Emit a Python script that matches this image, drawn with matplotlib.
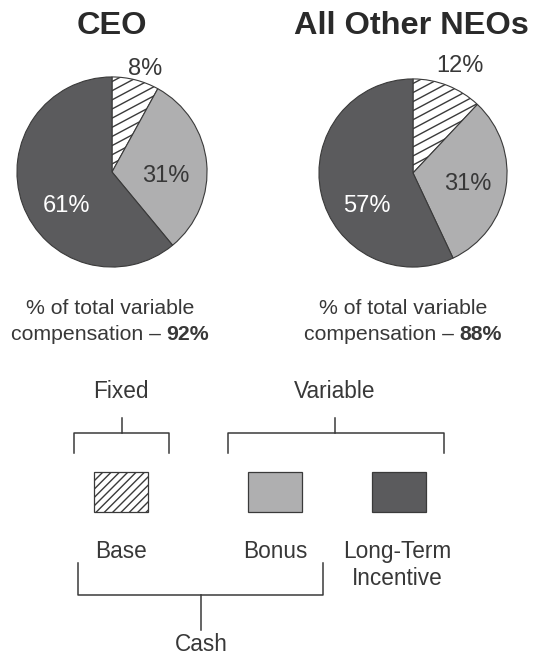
import numpy as np
import matplotlib
matplotlib.use("Agg")
import matplotlib.pyplot as plt
from matplotlib.patches import Rectangle

plt.rcParams['font.family'] = ['Liberation Sans', 'DejaVu Sans']
plt.rcParams['hatch.linewidth'] = 1.0

# ---- data ----
groups = ["CEO", "All Other NEOs"]
components = ["Base", "Bonus", "Long-Term\nIncentive"]
ceo_values = [8, 31, 61]
neo_values = [12, 31, 57]
variable_pct = [92, 88]

W, H = 535, 657
fig = plt.figure(figsize=(W / 100, H / 100), dpi=100)

LIGHT = '#afafb0'
DARK = '#5b5b5d'
EDGE = '#3a3a3a'
TXT = '#383838'

def pie_axes(cx, cy, r):
    return fig.add_axes([(cx - r) / W, (H - cy - r) / H, 2 * r / W, 2 * r / H])

pies = [
    dict(vals=ceo_values, cx=112, cy=172, r=96, title_x=112, sub_x=110,
         lab=[(145, 75), (166, 182), (66, 212)]),
    dict(vals=neo_values, cx=413, cy=173, r=95, title_x=411, sub_x=403,
         lab=[(460, 72), (468, 190), (367, 212)]),
]

for p in pies:
    pa = pie_axes(p['cx'], p['cy'], p['r'])
    wedges, _ = pa.pie(p['vals'], startangle=90, counterclock=False,
                       colors=['white', LIGHT, DARK],
                       wedgeprops=dict(edgecolor=EDGE, linewidth=0.8))
    # shallow diagonal hatch inside the base wedge
    ang = np.deg2rad(28)
    d = np.array([np.cos(ang), np.sin(ang)])
    nvec = np.array([-np.sin(ang), np.cos(ang)])
    for k in np.arange(-1.2, 1.2, 0.085):
        c = nvec * k
        pts = np.array([c - 2 * d, c + 2 * d])
        ln, = pa.plot(pts[:, 0], pts[:, 1], color=EDGE, lw=1.0, zorder=3)
        ln.set_clip_path(wedges[0])
    pa.set_xlim(-1.01, 1.01)
    pa.set_ylim(-1.01, 1.01)
    pa.axis('off')

# overlay axes in pixel coordinates
ax = fig.add_axes([0, 0, 1, 1])
ax.set_xlim(0, W)
ax.set_ylim(H, 0)
ax.axis('off')
ax.set_zorder(10)

renderer = fig.canvas.get_renderer()

def text_width(s, **kw):
    t = ax.text(0, 0, s, **kw)
    bb = t.get_window_extent(renderer=renderer)
    t.remove()
    return bb.width

SUB = 15.3
LEG = 16.3
PCT = 17

for i, p in enumerate(pies):
    ax.text(p['title_x'], 34, groups[i], ha='center', va='baseline',
            fontsize=23.4, fontweight='bold', color='#2a2a2a')
    cols = [TXT, TXT, 'white']
    for (x, y), v, c in zip(p['lab'], p['vals'], cols):
        ax.text(x, y, f"{v}%", ha='center', va='baseline', fontsize=PCT, color=c)
    sx = p['sub_x']
    ax.text(sx, 314, "% of total variable", ha='center', va='baseline',
            fontsize=SUB, color=TXT)
    a = "compensation \u2013 "
    b = f"{variable_pct[i]}%"
    wa = text_width(a, fontsize=SUB)
    wb = text_width(b, fontsize=SUB, fontweight='bold')
    x0 = sx - (wa + wb) / 2
    ax.text(x0, 340, a, ha='left', va='baseline', fontsize=SUB, color=TXT)
    ax.text(x0 + wa, 340, b, ha='left', va='baseline', fontsize=SUB,
            fontweight='bold', color=TXT)

lw = 1.1
lc = '#3a3a3a'

def bracket_down(x0, x1, xm, y_top, y_bar, y_end):
    ax.plot([xm, xm], [y_top, y_bar], color=lc, lw=lw)
    ax.plot([x0, x0, x1, x1], [y_end, y_bar, y_bar, y_end], color=lc, lw=lw)

ax.text(121, 398, "Fixed", ha='center', va='baseline', fontsize=LEG, color=TXT)
ax.text(335, 398, "Variable", ha='center', va='baseline', fontsize=LEG, color=TXT)
bracket_down(74, 169, 122, 418, 433, 453)
bracket_down(228, 444, 335, 418, 433, 453)

# swatches
sw = [(94, 'white', '////'), (248, LIGHT, None), (372, DARK, None)]
for x, c, h in sw:
    ax.add_patch(Rectangle((x, 472), 54, 40, facecolor=c, edgecolor=EDGE,
                           lw=0.9, hatch=h))

lab_x = [121, 275, 397]
for x, name in zip(lab_x, components):
    lines = name.split("\n")
    for j, ln in enumerate(lines):
        ax.text(x, 558 + 27 * j, ln, ha='center', va='baseline', fontsize=LEG,
                color=TXT)

# Cash bracket
ax.plot([78, 78, 323, 323], [563, 595, 595, 563], color=lc, lw=lw)
ax.plot([201, 201], [595, 630], color=lc, lw=lw)
ax.text(201, 651, "Cash", ha='center', va='baseline', fontsize=LEG, color=TXT)

fig.savefig("out.png", dpi=100)
